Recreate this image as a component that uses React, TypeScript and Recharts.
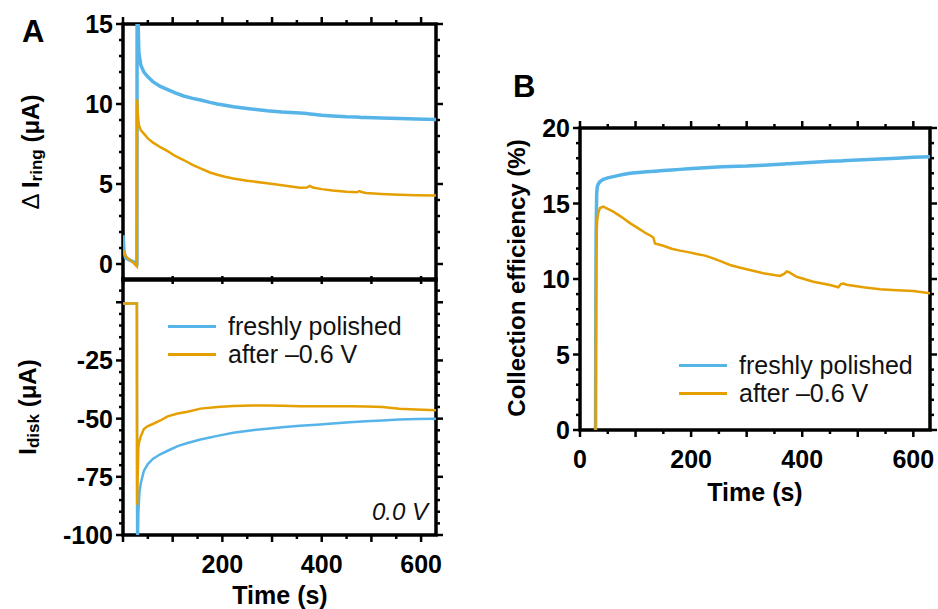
import React from 'react'
import { LineChart, Line, XAxis, YAxis, ReferenceArea, Legend } from 'recharts'

const FONT = '"Liberation Sans", Arial, Helvetica, sans-serif'
const BLUE = '#56B4E9'
const ORANGE = '#E69F00'
const TICK = { stroke: '#000', strokeWidth: 2.5 }

const seriesNames = ['freshly polished', 'after \u20130.6 V']

// panel A, top: ring current (uA) vs time (s)
const tRing = [0, 2, 5, 10, 20, 28, 28.5, 30, 32, 36, 42, 50, 60, 75, 90, 105, 122, 140, 156, 175, 190, 205, 222, 250, 290, 320, 356, 370, 376, 382, 400, 422, 450, 470, 476, 480, 489, 520, 556, 590, 630]
const ringFresh = [1.8, 0.8, 0.4, 0.3, 0.15, 0.05, 20, 15.5, 13.2, 12.4, 12.0, 11.7, 11.4, 11.1, 10.9, 10.7, 10.5, 10.35, 10.25, 10.1, 10.0, 9.92, 9.83, 9.72, 9.58, 9.5, 9.43, 9.4, 9.38, 9.36, 9.3, 9.25, 9.2, 9.18, 9.17, 9.16, 9.16, 9.13, 9.1, 9.06, 9.03]
const ringAfter = [0.9, 0.7, 0.5, 0.35, 0.1, -0.15, 10.3, 9.3, 8.7, 8.35, 8.15, 7.85, 7.6, 7.3, 7.05, 6.75, 6.5, 6.2, 5.97, 5.72, 5.58, 5.45, 5.34, 5.2, 5.05, 4.92, 4.76, 4.78, 4.88, 4.78, 4.68, 4.6, 4.52, 4.48, 4.56, 4.5, 4.44, 4.38, 4.33, 4.3, 4.28]

// panel A, bottom: disk current (uA) vs time (s)
const tDisk = [0, 28, 28.5, 29.5, 31, 33, 36, 42, 50, 60, 75, 90, 110, 130, 156, 190, 222, 260, 290, 320, 356, 390, 422, 456, 489, 522, 556, 590, 630]
const diskFresh = [-0.5, -0.5, -130, -110, -90, -82, -77.5, -72.5, -69.5, -67.3, -65.3, -63.8, -61.8, -60.5, -59, -57.4, -56.1, -55, -54.3, -53.7, -53.1, -52.6, -52.1, -51.6, -51.1, -50.8, -50.4, -50.2, -50]
const diskAfter = [-0.5, -0.5, -87, -75, -62, -59.5, -57.5, -54.5, -53.2, -52.3, -50.8, -49, -47.8, -47, -45.7, -45, -44.6, -44.4, -44.4, -44.5, -44.7, -44.7, -44.7, -44.7, -44.8, -45, -45.7, -46.1, -46.4]

// panel B: collection efficiency (%) vs time (s)
const tEff = [28, 28.5, 29, 30, 31, 33, 36, 42, 50, 60, 75, 90, 105, 120, 128, 132, 135, 150, 165, 180, 195, 210, 225, 240, 255, 270, 285, 300, 330, 360, 368, 372, 376, 390, 420, 450, 465, 470, 474, 480, 510, 540, 570, 600, 630]
const effFresh = [0, 8, 13, 15.6, 16.1, 16.3, 16.45, 16.6, 16.7, 16.78, 16.9, 17.0, 17.05, 17.1, 17.12, 17.13, 17.14, 17.18, 17.22, 17.26, 17.3, 17.33, 17.37, 17.4, 17.43, 17.45, 17.47, 17.48, 17.54, 17.6, 17.62, 17.63, 17.64, 17.67, 17.73, 17.79, 17.81, 17.82, 17.83, 17.84, 17.9, 17.95, 18.0, 18.06, 18.1]
const effAfter = [0, 6, 11.3, 13.2, 13.9, 14.4, 14.7, 14.79, 14.65, 14.46, 14.1, 13.7, 13.35, 13.0, 12.85, 12.75, 12.35, 12.2, 12.0, 11.88, 11.78, 11.65, 11.55, 11.37, 11.15, 10.93, 10.78, 10.64, 10.38, 10.2, 10.35, 10.5, 10.45, 10.15, 9.82, 9.6, 9.45, 9.68, 9.7, 9.62, 9.45, 9.32, 9.25, 9.2, 9.05]

// axis ticks
const xTicks = [0, 50, 100, 150, 200, 250, 300, 350, 400, 450, 500, 550, 600]
const xLabelsA = [200, 400, 600]
const xLabelsB = [0, 200, 400, 600]
const yTicksRing = [0, 1, 2, 3, 4, 5, 6, 7, 8, 9, 10, 11, 12, 13, 14, 15]
const yLabelsRing = [0, 5, 10, 15]
const yTicksDisk = [-100, -95, -90, -85, -80, -75, -70, -65, -60, -55, -50, -45, -40, -35, -30, -25, -20, -15, -10, -5, 0, 5]
const yLabelsDisk = [-100, -75, -50, -25]
const yTicksEff = [0, 1, 2, 3, 4, 5, 6, 7, 8, 9, 10, 11, 12, 13, 14, 15, 16, 17, 18, 19, 20]
const yLabelsEff = [0, 5, 10, 15, 20]

const ringData = tRing.map((t, i) => ({ t, fresh: ringFresh[i], after: ringAfter[i] }))
const diskData = tDisk.map((t, i) => ({ t, fresh: diskFresh[i], after: diskAfter[i] }))
const effData = tEff.map((t, i) => ({ t, fresh: effFresh[i], after: effAfter[i] }))

const tickText = { fontFamily: FONT, fontSize: 25, fontWeight: 700, fill: '#000' }
const MU = ' (\u03bcA)'

function makeYTick(labels: number[], majorStep: number, plotW: number) {
  return (props: any) => {
    const { x, y, payload } = props
    const v = payload.value as number
    const len = v % majorStep === 0 ? 7 : 4
    return (
      <g>
        <line x1={x} x2={x - len} y1={y} y2={y} {...TICK} />
        <line x1={x + plotW} x2={x + plotW + len} y1={y} y2={y} {...TICK} />
        {labels.includes(v) && (
          <text x={x - 10} y={y} textAnchor="end" dominantBaseline="central" {...tickText}>
            {v}
          </text>
        )}
      </g>
    )
  }
}

function makeXTick(labels: number[], plotH: number, bottom: 'out' | 'cross', top: boolean) {
  return (props: any) => {
    const { x, y, payload } = props
    const v = payload.value as number
    const major = v % 100 === 0
    const len = major ? 7 : 4
    const yt = y - plotH
    return (
      <g>
        {bottom === 'out' && <line x1={x} x2={x} y1={y} y2={y + len} {...TICK} />}
        {bottom === 'cross' && major && <line x1={x} x2={x} y1={y - 4} y2={y + 4} {...TICK} />}
        {top && <line x1={x} x2={x} y1={yt} y2={yt - len} {...TICK} />}
        {labels.includes(v) && (
          <text x={x} y={y + 29} textAnchor="middle" dominantBaseline="central" {...tickText}>
            {v}
          </text>
        )}
      </g>
    )
  }
}

function YTitle({ cx, cy, main, sub, rest, delta }: any) {
  return (
    <text
      x={cx}
      y={cy}
      transform={`rotate(-90, ${cx}, ${cy})`}
      textAnchor="middle"
      dominantBaseline="central"
      fontFamily={FONT}
      fontSize={24}
      fontWeight={700}
      fill="#000"
    >
      {delta && <tspan fontWeight={400}>{'\u0394 '}</tspan>}
      <tspan>{main}</tspan>
      {sub && (
        <tspan dy={6} fontSize={17}>
          {sub}
        </tspan>
      )}
      {rest && <tspan dy={sub ? -6 : 0}>{rest}</tspan>}
    </text>
  )
}

function XTitle({ cx, cy }: any) {
  return (
    <text x={cx} y={cy} textAnchor="middle" dominantBaseline="central" fontFamily={FONT} fontSize={25} fontWeight={700} fill="#000">
      Time (s)
    </text>
  )
}

function LegendBox(props: any) {
  const items = [...(props.payload || [])].sort(
    (a: any, b: any) => seriesNames.indexOf(a.value) - seriesNames.indexOf(b.value)
  )
  return (
    <div style={{ fontFamily: FONT, fontSize: 25, color: '#111' }}>
      {items.map((p: any) => (
        <div key={p.value} style={{ display: 'flex', alignItems: 'center', height: 28.5, whiteSpace: 'nowrap' }}>
          <span style={{ width: 48, height: 3, background: p.color, marginRight: 12, flexShrink: 0 }} />
          <span>{p.value}</span>
        </div>
      ))}
    </div>
  )
}

const frame = { stroke: '#000', strokeWidth: 3.5, fill: 'none', ifOverflow: 'visible' as const }

export default function App() {
  return (
    <div style={{ position: 'absolute', left: 0, top: 0, width: 938, height: 609, background: '#fff', overflow: 'hidden' }}>
      {/* A, top: ring current */}
      <div style={{ position: 'absolute', left: 0, top: 0 }}>
        <LineChart width={460} height={300} data={ringData} margin={{ top: 24, right: 24, bottom: 0, left: 0 }}>
          <XAxis
            dataKey="t"
            type="number"
            domain={[0, 630]}
            ticks={xTicks}
            interval={0}
            allowDataOverflow
            height={20}
            axisLine={false}
            tickLine={false}
            tickSize={0}
            tickMargin={0}
            tick={makeXTick([], 256, 'cross', true)}
          />
          <YAxis
            type="number"
            domain={[-1, 15]}
            ticks={yTicksRing}
            interval={0}
            allowDataOverflow
            width={123}
            axisLine={false}
            tickLine={false}
            tickSize={0}
            tickMargin={0}
            tick={makeYTick(yLabelsRing, 5, 313)}
            label={<YTitle cx={30} cy={152} delta main="I" sub="ring" rest={MU} />}
          />
          <Line type="linear" dataKey="fresh" name={seriesNames[0]} stroke={BLUE} strokeWidth={3.5} dot={false} isAnimationActive={false} />
          <Line type="linear" dataKey="after" name={seriesNames[1]} stroke={ORANGE} strokeWidth={2.5} dot={false} isAnimationActive={false} />
          <ReferenceArea x1={0} x2={630} y1={-1} y2={15} {...frame} />
        </LineChart>
      </div>

      {/* A, bottom: disk current */}
      <div style={{ position: 'absolute', left: 0, top: 270 }}>
        <LineChart width={460} height={339} data={diskData} margin={{ top: 9, right: 24, bottom: 0, left: 0 }}>
          <XAxis
            dataKey="t"
            type="number"
            domain={[0, 630]}
            ticks={xTicks}
            interval={0}
            allowDataOverflow
            height={74}
            axisLine={false}
            tickLine={false}
            tickSize={0}
            tickMargin={0}
            tick={makeXTick(xLabelsA, 256, 'out', false)}
            label={<XTitle cx={280} cy={325} />}
          />
          <YAxis
            type="number"
            domain={[-100, 10]}
            ticks={yTicksDisk}
            interval={0}
            allowDataOverflow
            width={123}
            axisLine={false}
            tickLine={false}
            tickSize={0}
            tickMargin={0}
            tick={makeYTick(yLabelsDisk, 25, 313)}
            label={<YTitle cx={27} cy={137} main="I" sub="disk" rest={MU} />}
          />
          <Line type="linear" dataKey="fresh" name={seriesNames[0]} stroke={BLUE} strokeWidth={2.5} dot={false} isAnimationActive={false} />
          <Line type="linear" dataKey="after" name={seriesNames[1]} stroke={ORANGE} strokeWidth={2.5} dot={false} isAnimationActive={false} />
          <ReferenceArea x1={0} x2={630} y1={-100} y2={10} {...frame} />
          <Legend
            layout="vertical"
            align="center"
            verticalAlign="middle"
            content={LegendBox}
            wrapperStyle={{ left: 168, top: 42, width: 260 }}
          />
        </LineChart>
      </div>

      {/* B: collection efficiency */}
      <div style={{ position: 'absolute', left: 480, top: 60 }}>
        <LineChart width={458} height={450} data={effData} margin={{ top: 68, right: 8, bottom: 0, left: 0 }}>
          <XAxis
            dataKey="t"
            type="number"
            domain={[0, 630]}
            ticks={xTicks}
            interval={0}
            allowDataOverflow
            height={80}
            axisLine={false}
            tickLine={false}
            tickSize={0}
            tickMargin={0}
            tick={makeXTick(xLabelsB, 302, 'out', true)}
            label={<XTitle cx={275} cy={432} />}
          />
          <YAxis
            type="number"
            domain={[0, 20]}
            ticks={yTicksEff}
            interval={0}
            allowDataOverflow
            width={100}
            axisLine={false}
            tickLine={false}
            tickSize={0}
            tickMargin={0}
            tick={makeYTick(yLabelsEff, 5, 350)}
            label={<YTitle cx={36} cy={218} main="Collection efficiency (%)" />}
          />
          <Line type="linear" dataKey="fresh" name={seriesNames[0]} stroke={BLUE} strokeWidth={3.5} dot={false} isAnimationActive={false} />
          <Line type="linear" dataKey="after" name={seriesNames[1]} stroke={ORANGE} strokeWidth={2.5} dot={false} isAnimationActive={false} />
          <ReferenceArea x1={0} x2={630} y1={0} y2={20} {...frame} />
          <Legend
            layout="vertical"
            align="center"
            verticalAlign="middle"
            content={LegendBox}
            wrapperStyle={{ left: 199, top: 291, width: 260 }}
          />
        </LineChart>
      </div>

      {/* panel letters and condition note */}
      <svg width={938} height={609} style={{ position: 'absolute', left: 0, top: 0, pointerEvents: 'none' }}>
        <text x={22} y={42} fontFamily={FONT} fontSize={31} fontWeight={700} fill="#000">
          A
        </text>
        <text x={513} y={97} fontFamily={FONT} fontSize={31} fontWeight={700} fill="#000">
          B
        </text>
        <text x={428} y={520} textAnchor="end" fontFamily={FONT} fontSize={24} fontStyle="italic" fill="#111">
          0.0 V
        </text>
      </svg>
    </div>
  )
}
